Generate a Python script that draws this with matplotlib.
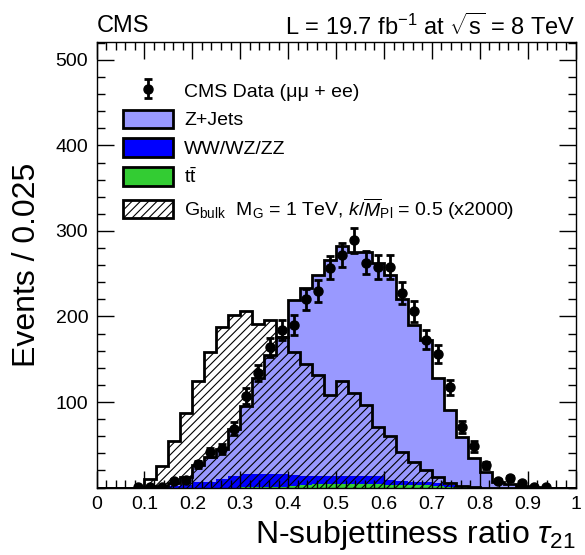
import numpy as np
import matplotlib
matplotlib.use("Agg")
import matplotlib.pyplot as plt
from matplotlib.patches import Patch
from matplotlib.ticker import MultipleLocator

plt.rcParams['font.family'] = ['Liberation Sans', 'DejaVu Sans']
plt.rcParams['mathtext.fontset'] = 'custom'
plt.rcParams['mathtext.rm'] = 'Liberation Sans'
plt.rcParams['mathtext.it'] = 'Liberation Sans:italic'
plt.rcParams['hatch.linewidth'] = 0.8

# 40 bins of width 0.025 in tau21
edges = np.linspace(0, 1, 41)
centers = 0.5 * (edges[:-1] + edges[1:])

# data points (events per bin)
data = [0, 0, 0, 1, 1, 1, 8, 9, 27, 41,
        45, 69, 107, 134, 164, 184, 190, 220, 230, 257,
        272, 289, 263, 258, 258, 227, 206, 173, 156, 117,
        71, 48, 26, 8, 11, 5, 1, 1, 0, 0]

# stacked backgrounds
ttbar = [0, 0, 0, 0, 0, 0, 0, 0, 0, 0,
         0, 0, 1, 1, 1, 1, 2, 3, 4, 4,
         4, 4, 4, 4, 3, 3, 3, 3, 2, 1,
         1, 0, 0, 0, 0, 0, 0, 0, 0, 0]
diboson = [0, 0, 0, 0, 0, 1, 2, 3, 6, 7,
           10, 13, 15, 15, 15, 15, 13, 11, 10, 10,
           10, 10, 9, 9, 6, 5, 4, 4, 3, 2,
           1, 1, 0, 0, 0, 0, 0, 0, 0, 0]
# top of the stack (Z+Jets outline)
stack_total = [0, 0, 0, 0, 1, 2, 5, 12, 26, 36,
               45, 68, 95, 128, 155, 176, 219, 233, 248, 266,
               282, 275, 275, 262, 249, 221, 190, 172, 128, 91,
               59, 35, 18, 7, 4, 2, 1, 0, 0, 0]

# signal x2000
signal = [0, 0, 0, 0, 10, 25, 54, 87, 125, 158,
          188, 202, 207, 191, 196, 176, 159, 145, 131, 108,
          125, 110, 96, 71, 60, 42, 30, 20, 12, 5,
          2, 1, 0, 0, 0, 0, 0, 0, 0, 0]

data = np.array(data, dtype=float)
tt = np.array(ttbar, dtype=float)
vv = tt + np.array(diboson, dtype=float)
tot = np.maximum(np.array(stack_total, dtype=float), vv)

fig = plt.figure(figsize=(5.85, 5.55), dpi=100)
ax = fig.add_axes([0.165, 0.1216, 0.8188, 0.8027])

ax.stairs(tot, edges, baseline=vv, fill=True, color='#9999ff', lw=0)
ax.stairs(vv, edges, baseline=tt, fill=True, color='#0000ff', lw=0)
ax.stairs(tt, edges, baseline=0, fill=True, color='#33cc33', lw=0)
ax.stairs(tot, edges, color='black', lw=2)
ax.stairs(signal, edges, fill=True, facecolor='none', edgecolor='black',
          hatch='////', lw=2)

mask = data > 0
err = ax.errorbar(centers[mask], data[mask], yerr=np.sqrt(data[mask]) * 0.85,
                  fmt='o', color='black', ms=6.5, elinewidth=2, capsize=3,
                  capthick=2)

ax.set_xlim(0, 1)
ax.set_ylim(0, 521)
ax.xaxis.set_minor_locator(MultipleLocator(0.02))
ax.yaxis.set_minor_locator(MultipleLocator(20))
ax.tick_params(which='both', direction='in', top=True, right=True,
               labelsize=14, width=1, pad=6)
ax.tick_params(which='major', length=12)
ax.tick_params(which='minor', length=6)
ax.set_xticks(np.arange(0, 1.01, 0.1))
ax.set_xticklabels(['0', '0.1', '0.2', '0.3', '0.4', '0.5', '0.6', '0.7',
                    '0.8', '0.9', '1'])
ax.set_yticks([100, 200, 300, 400, 500])
for s in ax.spines.values():
    s.set_linewidth(1)

ax.set_ylabel('Events / 0.025', fontsize=23, labelpad=10)
ax.set_xlabel(r'N-subjettiness ratio $\tau_{21}$', fontsize=23, loc='right',
              labelpad=4)

ax.text(0.0, 1.035, 'CMS', transform=ax.transAxes, fontsize=17,
        ha='left', va='center')
ax.text(1.0, 1.035, r'L = 19.7 fb$^{-1}$ at $\sqrt{\mathrm{s}}$ = 8 TeV',
        transform=ax.transAxes, fontsize=17, ha='right', va='center')

handles = [err,
           Patch(facecolor='#9999ff', edgecolor='black', lw=2),
           Patch(facecolor='#0000ff', edgecolor='black', lw=2),
           Patch(facecolor='#33cc33', edgecolor='black', lw=2),
           Patch(facecolor='white', edgecolor='black', lw=2, hatch='////')]
labels = ['CMS Data (\u03bc\u03bc + ee)', 'Z+Jets', 'WW/WZ/ZZ', r't$\bar{\mathrm{t}}$',
          r'G$_{\mathrm{bulk}}$  M$_{\mathrm{G}}$ = 1 TeV, $k/\overline{M}_{\mathrm{Pl}}$ = 0.5 (x2000)']
ax.legend(handles, labels, loc='upper left', bbox_to_anchor=(0.055, 0.913),
          frameon=False, fontsize=14, borderpad=0, borderaxespad=0,
          handlelength=2.56, handleheight=1.08, labelspacing=0.46,
          handletextpad=0.6)

fig.savefig('out.png', dpi=100)
